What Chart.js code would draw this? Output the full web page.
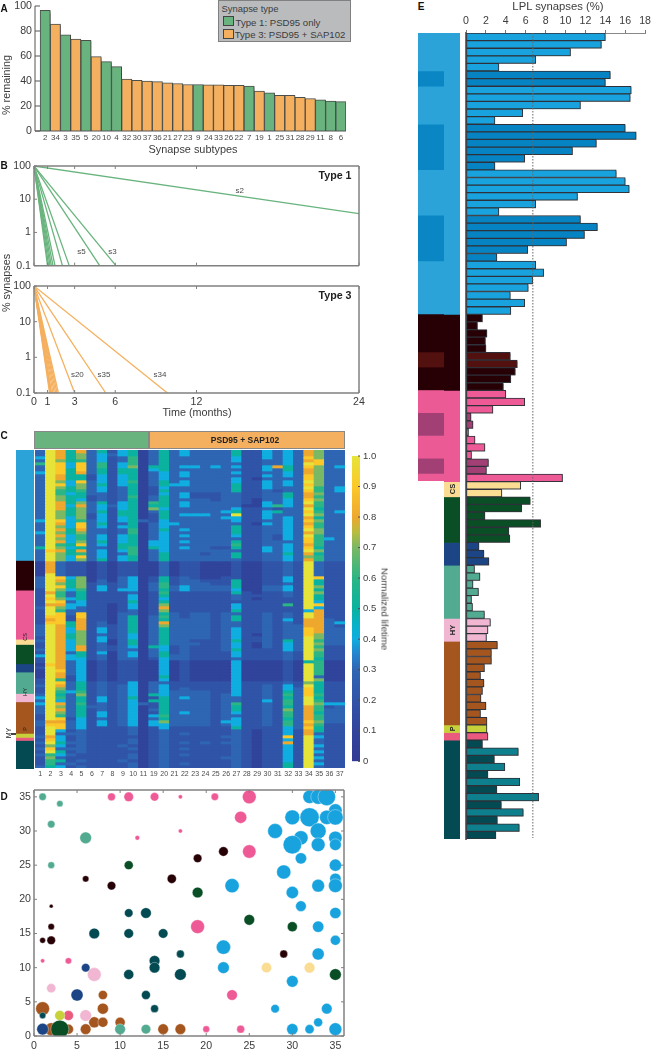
<!DOCTYPE html>
<html>
<head>
<meta charset="utf-8">
<title>Synapse subtypes</title>
<script src="https://cdn.jsdelivr.net/npm/chart.js@4"></script>
<style>
  html, body { margin: 0; padding: 0; background: #fff; }
  #page { position: relative; width: 654px; height: 1050px; overflow: hidden; font-family: "Liberation Sans", Arial, sans-serif; color: #3c3c3c; }
  #page canvas { position: absolute; }
  .txt { position: absolute; white-space: nowrap; transform: translate(-50%, -50%); }
  .box { position: absolute; box-sizing: border-box; }
</style>
</head>
<body>
<div id="page"></div>
<script>
// panel A
const subtypeLabels = ['2','34','3','35','5','20','10','4','32','30','37','36','21','27','23','9','24','33','26','22','7','19','1','25','31','28','29','11','8','6'];
const remaining = [96.5,85.5,77,73.5,72.5,59.5,55.5,51.5,41.5,40.5,40,39.5,38.5,38,37.2,37.2,37,37,36.5,36.5,36,32,30.5,28.5,28.5,27,26,25,24,23.5];
const type1Subtypes = ['2','3','5','10','4','9','7','1','11','8','6'];

// panel B: [months when the line reaches 0.1 %]
const type1Ends = [1.0,1.08,1.18,1.28,1.4,1.55,2.1,2.6,4.85,6.05];
const type3Ends = [1.15,1.2,1.25,1.3,1.4,1.5,1.6,1.7,1.8,3.0,5.3,9.85];
const s2End = [24, 3.7];
const type1Notes = [['s2',15.2,17.5],['s5',3.5,0.27],['s3',5.8,0.27]];
const type3Notes = [['s20',3.2,0.32],['s35',5.17,0.32],['s34',9.3,0.32]];
const timeTicks = [0,1,3,6,12,24];
const logTicks = [0.1,1,10,100];

// brain regions, in row order
const groupSizes = [37,10,12,2,6,3,7,3,11,1,1,13];
const stripRows = [36,9.7,16,1.7,6.3,2.7,7,2.7,10.3,1.3,1,9.3];

// panel C: one string per column, one character per row (tenths of the normalized lifetime, a = 1.0)
const heatLabels = ['1','2','3','4','5','6','7','8','9','10','11','19','20','21','22','23','24','25','26','27','28','29','30','31','32','33','34','35','36','37'];
const heatColumns = [
  '3343633433 3333333333 3334333433 3353333 1111133332 2222232222 23 33 323223 242 2121112 232 2343433322 3 3 2 2232323232 223',
  'aaaaaaaaaa aaaaaaaaaa aaaaaaaaaa aaa9aaa 8888aaaaaa 8a9a8aaa98 9a aa aaaaaa aaa a9aaaaa aaa aaaaaaaaaa 8 9 a aa89a79a67 665',
  '8887999988 7976677888 7779878787 8678777 3333398797 6679876999 98 88 888888 888 8889886 987 6564878769 8 9 9 4344543543 534',
  '5555445555 4455455545 5544445544 4545544 2222245554 3343443322 55 44 554444 344 3333322 333 4333333332 3 3 3 2322323232 232',
  '8776999855 9776554787 7776998766 7958697 2222277776 5554433998 88 87 777788 554 4444444 555 6755655554 4 4 4 3333333322 323',
  '3333333322 3333322333 3223333333 3333333 1111111222 2222222222 22 22 222222 222 1111111 222 2222232222 2 2 2 2222222222 222',
  '5444665544 4544333544 5444543344 5434445 2222223344 2222222222 33 44 344333 433 2222222 333 3344333443 4 4 2 2222222222 222',
  '2322222222 2222222232 2222222222 2222222 1111111222 2222111111 12 22 221122 111 1111111 222 2222222222 2 2 2 2222222222 222',
  '4433445544 4433333444 5544343344 4554344 2222233334 2222222333 33 33 333333 333 2222222 233 3333333333 3 3 2 2222232222 322',
  '5566675555 6555565555 5555556655 5566655 2222244444 3445443355 55 55 445543 443 2222222 444 4454444444 4 4 3 3323323233 233',
  '1111111111 1111111111 1113111111 1111111 1111111111 1111111111 11 11 111111 111 1111111 111 1111311111 1 1 1 1111111111 111',
  '3333354333 3322233657 3222333333 4453333 1111122333 2222222233 33 33 333353 332 1111111 333 3525223243 4 4 2 2222222222 222',
  '5555555444 5545455554 5554445444 4444555 3333355665 6545787565 87 55 555544 554 4444454 344 4455555565 7 4 4 3333333333 333',
  '3333333333 3433333333 3333433333 3333333 1111122233 2222222333 33 33 333322 233 1111111 222 3333333333 3 3 2 2222222222 222',
  '4433343443 4433443443 3433334343 4343333 2222233344 2222222223 33 33 333333 333 2222222 223 3343333433 3 3 2 2322323232 232',
  '3333343333 3333223333 3433333333 3333333 2222223333 2222222333 33 33 332322 222 1111111 222 3333333333 3 3 2 2222222222 222',
  '3333333333 3333223333 3433333333 3333233 1111112333 2222222333 33 33 332222 222 1111111 222 3333333333 3 3 2 2222322222 222',
  '3333343333 3333222333 3333333333 3323333 1111112233 2222222222 22 22 222222 222 1111111 222 2222222222 2 2 2 2222222222 222',
  '3333333333 3333333333 4343333333 3323333 1111122233 2222222333 33 33 333333 222 1111111 222 2333333333 4 3 2 2232322223 222',
  '5544343434 4555333334 5a44355543 5653553 2222225554 5332445355 33 44 445445 443 4444444 444 4433655434 4 4 5 3333333333 333',
  '2222222222 2222222212 2222222222 2222222 1111111111 2222222222 22 22 222222 222 1111111 222 2222222222 2 2 2 2222222222 222',
  '2222222221 2222221112 2222122222 2222222 1111111111 1212222222 22 22 122112 222 1111111 222 2222222222 2 2 2 1111111111 111',
  '4443344343 4443333443 4443433333 3344333 2222222233 2222222333 33 33 333332 222 1111111 233 3334333333 3 3 2 2222222222 222',
  '3333383333 3332333362 5333333322 3333333 2222222233 2222222222 22 22 222222 222 1111111 222 2222222222 2 2 2 2222222222 222',
  '4444455443 4433554443 3344444444 3444544 3333344344 3322622334 33 33 335444 333 2222222 344 5656657665 6 6 4 4494844444 455',
  '3333333333 3333333333 3333333333 3333333 2222222222 2222222222 23 33 333333 222 1111111 223 3333333333 3 3 3 2222222222 222',
  '8898a98899 a9a9889a8a 9a8989a8a9 989a878 aaaaaaaaaa aaaaaa4aa8 88 99 9aaaaa aaa 5aaaaaa 7a9 99aaa88888 9 8 9 88aaaaaaaa aaa',
  '7779977777 7766767665 6757667766 6657566 3333395575 7554948888 88 88 776767 665 6666637 555 5656766566 7 6 5 5343343434 343',
  '3333333333 3333333333 3333333334 3333333 2222222222 2222222223 33 33 333322 222 1111111 222 2222423333 3 2 2 2222222222 222',
  '3333343333 3344333333 4333333333 3333333 2222222222 2222222222 42 33 333322 222 1111111 222 2222433333 3 2 2 2222222222 222'
];
const heatStops = [0,.1,.2,.3,.35,.4,.45,.5,.6,.7,.75,.8,.9,1];
const heatStopColours = ['#333a94','#31449c','#3054a8','#2f66b4','#2583cc','#0fade0','#08b2c6','#0bb29f','#2cb585','#7ab864','#b8bc40','#eea82e','#fbc829','#e6e43a'];
const colourbarTicks = [0,.1,.2,.3,.4,.5,.6,.7,.8,.9,1];

// panel D: [x, y, size]
const blueDots = [[32,35,6.3],[33,35,7],[34,35,8.3],[35,33,6.3],[30,32,7],[32,32,9],[34,32,6.8],[35,32,7.3],[28,30,7],[33,30,7.5],[31,29,6.7],[35,29,6.3],[30,28,8.7],[33,28,6.5],[35,28,5.5],[31,26,5.3],[35,25,5.7],[29,24,6.7],[35,23,5.3],[23,22,6.7],[33,22,6],[35,22,6.5],[30,21,5.8],[31,19,5],[35,18,5.3],[33,16,5.3],[35,14,4.7],[22,13,6.7],[33,12,5.7],[22,10,5.5],[30,8,5.5],[28,4,4],[34,4,5],[33,2,4.2],[30,1,5.3],[32,1,4.3],[35,1,6]];
const darkDots = [[6,23,3],[9,22,4],[16,23,4.3],[2,19,1.8],[2,16,3],[1,14,2.7],[2,14,4],[19,26,4],[22,27,4.5],[29,12,3.7]];
const pinkDots = [[9,35,3.7],[11,35,4.5],[14,35,4],[17,35,2],[17,30,2],[12,29,2.2],[1,11,2],[4,11,3],[21,35,3.5],[25,35,6.5],[24,32,5.7],[25,27,6.3],[19,16,6.5],[23,6,5],[20,1,3.2],[24,1,3.7]];
const csDots = [[27,10,4.8],[32,10,5]];
const greenDots = [[11,25,4.2],[19,21,5],[25,17,5],[30,16,4.7],[35,9,5.5],[3,1,8.5]];
const navyDots = [[6,10,4],[5,6,5.7],[1,1,5.5]];
const mintDots = [[1,35,3.5],[3,34,3],[2,31,3.5],[6,29,5.5],[2,25,3.2],[10,1,5],[13,1,4.5]];
const hyDots = [[7,9,6.5],[2,7,4.3],[6,3,5.5]];
const brownDots = [[8,6,4.3],[8,4,5.2],[1,4,6.5],[7,2,5.2],[8,2,4.7],[10,2,4.7],[2,1,6],[4,1,4.7],[6,1,5],[15,1,5],[17,1,5]];
const pDots = [[3,3,4.8]];
const redDots = [[4,3,4.7]];
const tealDots = [[11,18,4],[13,18,5],[7,15,5],[11,15,4.5],[15,15,4.5],[17,12,3.7],[14,11,5],[14,10,5],[11,9,4.7],[17,9,5.5],[13,6,4.2],[14,4,3.7],[1,3,3]];

// panel E
const lplValues = [14,13.6,10.5,7,3.3, 14.5,14,16.6,16.5,11.5,5.7,2.9, 16,17.1,13.1,10.7,5.9,2.9, 15.1,16,16.4,11.2,7,3.3, 11.5,13.2,11.9,10.1,6.2,3.1, 7,7.8,6.7,6.25,4.45,5.9,4.5,
  1.65,1.15,2.1,1.95,2,4.45,5.15,4.95,4.5,3.75,
  4,5.9,2.7,.5,.7,.25,.9,1.9,.55,2.25,2.05,9.7,
  5.5,3.6,
  6.45,5.6,1.9,7.5,4.3,4.4,
  1.3,1.8,2.3,
  .85,1.4,.7,1.25,.55,.65,1.85,
  2.45,2.2,2.05,
  3.15,2.55,2.55,1.85,1.45,1.8,1.65,1.5,2,1.45,2.1,
  2.1,
  2.2,
  1.65,5.25,2.85,3.9,2.2,5.4,3.1,7.3,3.55,5.75,3.15,5.35,3];
const lplMean = 6.72;
const lplTicks = [0,2,4,6,8,10,12,14,16,18];
const shadedRows = [5,6,12,13,14,15,16,17,24,25,26,27,28,29, 42,43, 50,51,52,56,57, 94,96,98,100,102,104];
// wide part of the strip in panel E
const wideStripRows = [5,2,5,6,6,6,7,5,2,3,3,3,3,2,1];

const groupColours = ['#2ba3d8','#260005','#ec5a96','#fadc92','#0a4e25','#1b4585','#52ab90','#f1b7d2','#a5561e','#c7d23a','#e95a7e','#034a52'];
const barColours = ['#18a3de','#260005','#ee5a96','#fadc92','#0a4e25','#1b4585','#52ab90','#f1b7d2','#a5561e','#c7d23a','#e95a7e','#034a52'];
const shadeColours = {0:'#0683c2',1:'#52100f',2:'#a23f74',11:'#0e7f8c'};
const wideStripColours = ['#2ba3d8','#0a86c4','#2ba3d8','#0a86c4','#2ba3d8','#0a86c4','#2ba3d8','#260005','#52100f','#260005','#ec5a96','#a23f74','#ec5a96','#a23f74','#ec5a96'];

const GREEN = '#69b47e', ORANGE = '#f5b05f', AXIS = '#808080', FONT = '"Liberation Sans", Arial, sans-serif';
Chart.defaults.font.family = FONT;
Chart.defaults.color = '#3c3c3c';
Chart.defaults.animation = false;
Chart.defaults.plugins.legend.display = false;
Chart.defaults.plugins.tooltip.enabled = false;

const page = document.getElementById('page');

function addCanvas(left, top, w, h) {
  const c = document.createElement('canvas');
  c.width = w; c.height = h;
  c.style.left = left + 'px'; c.style.top = top + 'px';
  c.style.width = w + 'px'; c.style.height = h + 'px';
  page.appendChild(c);
  return c.getContext('2d');
}

function label(text, x, y, size, opts = {}) {
  const d = document.createElement('div');
  d.className = 'txt';
  d.textContent = text;
  d.style.left = x + 'px'; d.style.top = y + 'px';
  d.style.fontSize = size + 'px';
  if (opts.bold) d.style.fontWeight = 'bold';
  if (opts.colour) d.style.color = opts.colour;
  if (opts.rotate) d.style.transform = `translate(-50%, -50%) rotate(${opts.rotate}deg)`;
  page.appendChild(d);
}

function rect(x, y, w, h, bg, border) {
  const d = document.createElement('div');
  d.className = 'box';
  d.style.cssText += `left:${x}px;top:${y}px;width:${w}px;height:${h}px;background:${bg};border:1px solid ${border}`;
  page.appendChild(d);
}

// frame lines and inward ticks, the original has them on the inside of the plot
function frame(cfg) {
  return {
    id: 'frame',
    afterDatasetsDraw(chart) {
      const { ctx, chartArea: a, scales } = chart;
      const len = cfg.len || 4;
      ctx.save();
      ctx.strokeStyle = cfg.colour || AXIS;
      ctx.lineWidth = cfg.width || 1.5;
      const seg = (x1, y1, x2, y2) => { ctx.beginPath(); ctx.moveTo(x1, y1); ctx.lineTo(x2, y2); ctx.stroke(); };
      (cfg.sides || []).forEach(s => {
        if (s === 'left') seg(a.left, a.top, a.left, a.bottom);
        if (s === 'right') seg(a.right, a.top, a.right, a.bottom);
        if (s === 'top') seg(a.left, a.top, a.right, a.top);
        if (s === 'bottom') seg(a.left, a.bottom, a.right, a.bottom);
      });
      ctx.lineWidth = 1;
      (cfg.xTicks || []).forEach(s => scales.x.ticks.forEach(t => {
        const px = scales.x.getPixelForValue(t.value);
        if (s === 'top') seg(px, a.top, px, a.top + len);
        else seg(px, a.bottom, px, a.bottom - len);
      }));
      (cfg.yTicks || []).forEach(s => scales.y.ticks.forEach(t => {
        const py = scales.y.getPixelForValue(t.value);
        if (s === 'left') seg(a.left, py, a.left + len, py);
        else seg(a.right, py, a.right - len, py);
      }));
      ctx.restore();
    }
  };
}

const barShadow = {
  id: 'barShadow',
  beforeDatasetsDraw(chart) {
    const ctx = chart.ctx;
    ctx.save();
    ctx.shadowColor = 'rgba(60,60,60,.45)';
    ctx.shadowOffsetX = 1;
    ctx.shadowOffsetY = 1;
    ctx.shadowBlur = 1;
  },
  afterDatasetsDraw(chart) { chart.ctx.restore(); }
};

function hex(c) { return [1, 3, 5].map(i => parseInt(c.slice(i, i + 2), 16)); }

function heatColour(v) {
  let i = 0;
  while (i < heatStops.length - 2 && v > heatStops[i + 1]) i++;
  const t = (v - heatStops[i]) / (heatStops[i + 1] - heatStops[i]);
  const a = hex(heatStopColours[i]), b = hex(heatStopColours[i + 1]);
  return `rgb(${a.map((n, k) => Math.round(n + (b[k] - n) * t)).join(',')})`;
}

const noGrid = { display: false, drawTicks: false };
const noBorder = { display: false };

// ---- A
function buildRemainingChart() {
  new Chart(addCanvas(0, -12, 360, 167), {
    type: 'bar',
    data: {
      datasets: [{
        data: remaining.map((v, i) => ({ x: i, y: v })),
        backgroundColor: subtypeLabels.map(s => type1Subtypes.includes(s) ? GREEN : ORANGE),
        borderColor: '#4a4f4c',
        borderWidth: 1,
        barPercentage: 1,
        categoryPercentage: 1
      }]
    },
    options: {
      responsive: false,
      layout: { padding: { top: 18, right: 14, left: 0, bottom: 0 } },
      scales: {
        x: {
          type: 'linear', min: -1, max: 29.5, offset: false,
          grid: noGrid, border: noBorder,
          afterFit: s => { s.height = 24; },
          ticks: {
            stepSize: 1, includeBounds: false, autoSkip: false, maxRotation: 0, padding: 2,
            font: { size: 8 }, color: '#4a4a4a',
            callback: v => subtypeLabels[v] || ''
          }
        },
        y: {
          min: 0, max: 100,
          grid: noGrid, border: noBorder,
          afterFit: s => { s.width = 35; },
          ticks: { stepSize: 20, padding: 3, font: { size: 10.6 }, color: '#3c3c3c' }
        }
      }
    },
    plugins: [barShadow, frame({ sides: ['left', 'bottom'], yTicks: ['left'], colour: '#555', width: 1, len: 5 })]
  });
}

// ---- B
function buildDecayChart(top, height, axisHeight, ends, colour, notes, extra) {
  const lines = ends.map(t => ({
    data: [{ x: 0, y: 100 }, { x: t, y: 0.1 }],
    borderColor: colour, borderWidth: 1.3, pointRadius: 0, tension: 0
  }));
  if (extra) lines.push({
    data: [{ x: 0, y: 100 }, { x: extra[0], y: extra[1] }],
    borderColor: colour, borderWidth: 1.3, pointRadius: 0, tension: 0
  });
  const noteWriter = {
    id: 'notes',
    afterDatasetsDraw(chart) {
      const { ctx, scales } = chart;
      ctx.save();
      ctx.font = '8px ' + FONT;
      ctx.fillStyle = '#4a4a4a';
      ctx.textAlign = 'center';
      ctx.textBaseline = 'middle';
      notes.forEach(([t, x, y]) => ctx.fillText(t, scales.x.getPixelForValue(x), scales.y.getPixelForValue(y)));
      ctx.restore();
    }
  };
  new Chart(addCanvas(0, top, 380, height), {
    type: 'line',
    data: { datasets: lines },
    options: {
      responsive: false,
      layout: { padding: { top: 16, right: 21, left: 0, bottom: height - 16 - 107 - axisHeight } },
      scales: {
        x: {
          type: 'linear', min: 0, max: 24,
          grid: noGrid, border: noBorder,
          afterBuildTicks: s => { s.ticks = timeTicks.map(value => ({ value })); },
          afterFit: s => { s.height = axisHeight; },
          ticks: { display: axisHeight > 0, autoSkip: false, maxRotation: 0, padding: 3, font: { size: 10.6 }, color: '#3c3c3c' }
        },
        y: {
          type: 'logarithmic', min: 0.1, max: 100,
          grid: noGrid, border: noBorder,
          afterBuildTicks: s => { s.ticks = logTicks.map(value => ({ value })); },
          afterFit: s => { s.width = 34; },
          ticks: { padding: 3, font: { size: 10.6 }, color: '#3c3c3c', callback: v => String(v) }
        }
      }
    },
    plugins: [noteWriter, frame({ sides: ['left', 'right', 'top', 'bottom'], xTicks: ['top', 'bottom'], yTicks: ['left'], len: 3 })]
  });
}

// ---- C
function buildHeatmap() {
  const rows = groupSizes.reduce((a, b) => a + b, 0);
  const cols = heatColumns.map(s => s.replace(/\s/g, '').split('').map(ch => ch === 'a' ? 1 : Number(ch) / 10));
  const datasets = [];
  for (let r = 0; r < rows; r++) {
    datasets.push({
      data: cols.map(() => 1),
      backgroundColor: cols.map(c => heatColour(c[r] === undefined ? 0.1 : c[r])),
      barPercentage: 1,
      categoryPercentage: 1,
      borderWidth: 0
    });
  }
  const ctx = addCanvas(30, 445, 320, 340);
  new Chart(ctx, {
    type: 'bar',
    data: { labels: heatLabels, datasets },
    options: {
      responsive: false,
      layout: { padding: { top: 5, left: 5, right: 5, bottom: 0 } },
      scales: {
        x: {
          stacked: true, grid: noGrid, border: noBorder,
          afterFit: s => { s.height = 17; },
          ticks: { autoSkip: false, maxRotation: 0, padding: 2, font: { size: 7 }, color: '#4a4a4a' }
        },
        y: {
          stacked: true, reverse: true, min: 0, max: rows,
          display: false
        }
      }
    }
  });
  ctx.canvas.style.filter = 'blur(0.6px)';
}

function buildColourbar() {
  new Chart(addCanvas(345, 440, 50, 330), {
    type: 'bar',
    data: {
      labels: ['lifetime'],
      datasets: [{
        data: [1],
        barPercentage: 1,
        categoryPercentage: 1,
        backgroundColor(c) {
          const a = c.chart.chartArea;
          if (!a) return '#2f66b4';
          const g = c.chart.ctx.createLinearGradient(0, a.bottom, 0, a.top);
          heatStops.forEach((s, i) => g.addColorStop(s, heatStopColours[i]));
          return g;
        }
      }]
    },
    options: {
      responsive: false,
      layout: { padding: { top: 16, left: 7, right: 0, bottom: 8 } },
      scales: {
        x: { display: false },
        y: {
          position: 'right', min: 0, max: 1,
          grid: noGrid, border: noBorder,
          afterBuildTicks: s => { s.ticks = colourbarTicks.map(value => ({ value })); },
          afterFit: s => { s.width = 35; },
          ticks: { padding: 3, font: { size: 9.5 }, color: '#3c3c3c', callback: v => v === 0 ? '0' : v.toFixed(1) }
        }
      }
    },
    plugins: [frame({ yTicks: ['right'], colour: '#4a4a4a', len: 2 })]
  });
}

// the coloured region strips, row counts along one column of stacked bars
function buildStrip(left, top, w, h, sizes, colours) {
  new Chart(addCanvas(left, top, w, h), {
    type: 'bar',
    data: {
      labels: ['group'],
      datasets: sizes.map((n, i) => ({
        data: [n], backgroundColor: colours[i], barPercentage: 1, categoryPercentage: 1, borderWidth: 0
      }))
    },
    options: {
      responsive: false,
      layout: { padding: 0 },
      scales: {
        x: { stacked: true, display: false },
        y: { stacked: true, reverse: true, display: false, min: 0, max: sizes.reduce((a, b) => a + b, 0) }
      }
    }
  });
}

// ---- D
function buildBubbles() {
  const groups = [[mintDots, 6], [tealDots, 11], [darkDots, 1], [pinkDots, 2], [greenDots, 4], [navyDots, 5],
    [hyDots, 7], [brownDots, 8], [pDots, 9], [redDots, 10], [csDots, 3], [blueDots, 0]];
  const datasets = groups.map(([dots, g]) => ({
    data: dots.map(([x, y, r]) => ({ x, y, r: r * 1.06 })),
    backgroundColor: barColours[g],
    borderColor: 'rgba(255,255,255,.7)',
    borderWidth: 0.5
  }));
  new Chart(addCanvas(0, 775, 360, 275), {
    type: 'bubble',
    data: { datasets },
    options: {
      responsive: false,
      layout: { padding: { top: 15, right: 16, left: 0, bottom: 0 } },
      scales: {
        x: {
          min: 0, max: 36, grid: noGrid, border: noBorder,
          afterFit: s => { s.height = 14; },
          ticks: { stepSize: 5, includeBounds: false, padding: 4, maxRotation: 0, font: { size: 10.6 }, color: '#3c3c3c' }
        },
        y: {
          min: 0, max: 36, grid: noGrid, border: noBorder,
          afterFit: s => { s.width = 34; },
          ticks: { stepSize: 5, includeBounds: false, padding: 3, font: { size: 10.6 }, color: '#3c3c3c' }
        }
      }
    },
    plugins: [frame({ sides: ['left', 'right', 'top', 'bottom'], xTicks: ['top', 'bottom'], yTicks: ['left', 'right'], len: 3 })]
  });
}

// ---- E
function buildLplChart() {
  const colours = [];
  groupSizes.forEach((n, g) => {
    for (let i = 0; i < n; i++) {
      const row = colours.length;
      colours.push(shadedRows.includes(row) ? shadeColours[g] : barColours[g]);
    }
  });
  const meanLine = {
    id: 'meanLine',
    afterDatasetsDraw(chart) {
      const { ctx, chartArea: a, scales } = chart;
      const x = scales.x.getPixelForValue(lplMean);
      ctx.save();
      ctx.strokeStyle = '#666';
      ctx.lineWidth = 1;
      ctx.setLineDash([1.5, 1.5]);
      ctx.beginPath();
      ctx.moveTo(x, a.top);
      ctx.lineTo(x, a.bottom - 1);
      ctx.stroke();
      ctx.restore();
    }
  };
  new Chart(addCanvas(460, 0, 194, 850), {
    type: 'bar',
    data: {
      labels: lplValues.map((v, i) => String(i + 1)),
      datasets: [{
        data: lplValues,
        backgroundColor: colours,
        borderColor: 'rgb(45,48,58)',
        borderWidth: 1,
        borderSkipped: false,
        barPercentage: 1,
        categoryPercentage: 1
      }]
    },
    options: {
      indexAxis: 'y',
      responsive: false,
      layout: { padding: { top: 0, left: 6, right: 7, bottom: 11 } },
      scales: {
        x: {
          position: 'top', min: 0, max: 18,
          grid: { display: true, drawOnChartArea: false, drawTicks: true, tickLength: 3, color: '#777' },
          border: { display: true, color: '#888', width: 1 },
          afterBuildTicks: s => { s.ticks = lplTicks.map(value => ({ value })); },
          afterFit: s => { s.height = 33; },
          ticks: { autoSkip: false, maxRotation: 0, padding: 3, font: { size: 10.6 }, color: '#3c3c3c' }
        },
        y: {
          grid: noGrid,
          border: { display: true, color: '#6e6e6e', width: 2 },
          afterFit: s => { s.width = 0; },
          ticks: { display: false }
        }
      }
    },
    plugins: [barShadow, meanLine]
  });
}

document.addEventListener('DOMContentLoaded', () => {
  buildRemainingChart();
  buildDecayChart(150, 125, 0, type1Ends, GREEN, type1Notes, s2End);
  buildDecayChart(270, 140, 17, type3Ends, ORANGE, type3Notes);

  // header of the heatmap
  rect(34, 431, 115, 18, GREEN, '#888');
  rect(149, 431, 196, 18, ORANGE, '#888');
  buildHeatmap();
  buildColourbar();
  buildStrip(16, 450, 18, 319, stripRows, groupColours);
  buildBubbles();

  // strips of panel E, wide part only on the first three regions
  buildStrip(444, 33, 16, 806, groupSizes, groupColours);
  buildStrip(418, 33, 26, 448, wideStripRows, wideStripColours);
  buildLplChart();

  // legend
  rect(218, 0, 133, 42, '#b9bbbd', '#808080');
  rect(223, 16, 11, 10, GREEN, '#444');
  rect(223, 29, 11, 10, ORANGE, '#444');
  label('Synapse type', 250, 8, 9.4);
  label('Type 1: PSD95 only', 278, 22, 9.6);
  label('Type 3: PSD95 + SAP102', 290, 34, 9.6);

  label('A', 4, 8, 10, { bold: true, colour: '#111' });
  label('B', 4, 165, 10, { bold: true, colour: '#111' });
  label('C', 4, 435, 10, { bold: true, colour: '#111' });
  label('D', 4, 796, 10, { bold: true, colour: '#111' });
  label('E', 421, 6, 10, { bold: true, colour: '#111' });

  label('% remaining', 6, 85, 10.8, { rotate: -90 });
  label('Synapse subtypes', 193, 149, 10.9);
  label('% synapses', 6, 283, 10.8, { rotate: -90 });
  label('Time (months)', 197, 412, 10.8);
  label('Type 1', 335, 175, 10.7, { bold: true, colour: '#222' });
  label('Type 3', 335, 295, 10.7, { bold: true, colour: '#222' });
  label('PSD95 + SAP102', 245, 440, 8.5, { bold: true, colour: '#222' });
  label('Normalized lifetime', 385, 609, 9.7, { rotate: 90 });
  label('LPL synapses (%)', 558, 6, 11.3);

  label('CS', 25, 637, 5.5, { rotate: -90, colour: '#222' });
  label('HY', 25, 692, 6, { rotate: -90, colour: '#222' });
  label('P', 25, 729, 5.5, { rotate: -90, colour: '#222' });
  label('MY', 8, 733, 7, { rotate: -90, colour: '#222' });
  rect(11, 733, 5, 1, '#444', '#444');
  label('CS', 452, 489, 7.5, { rotate: -90, bold: true, colour: '#222' });
  label('HY', 452, 630, 7.5, { rotate: -90, bold: true, colour: '#222' });
  label('P', 452, 729, 7, { rotate: -90, bold: true, colour: '#222' });
});
</script>
</body>
</html>
